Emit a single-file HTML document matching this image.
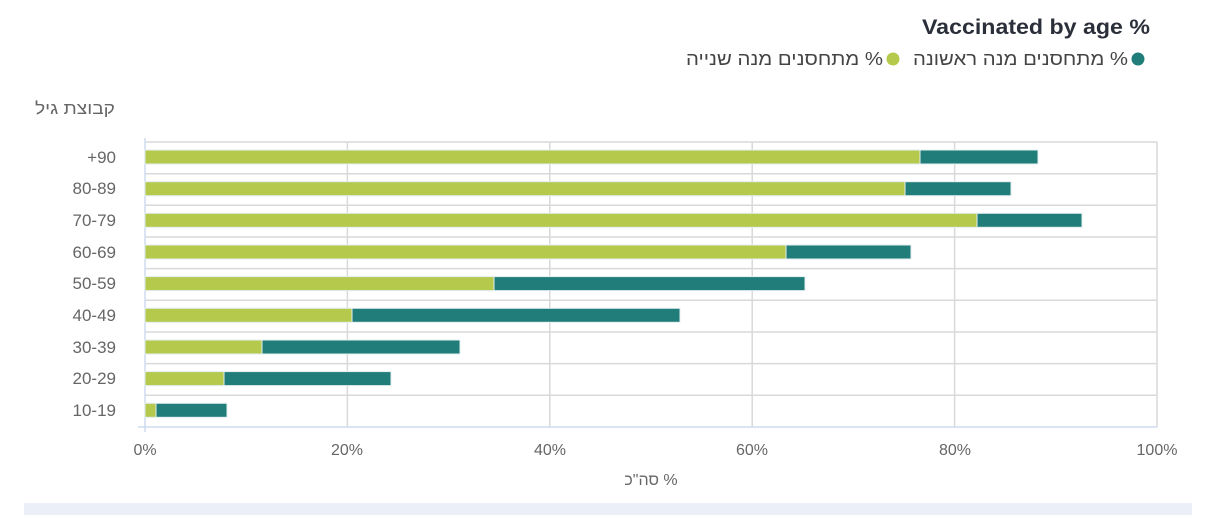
<!DOCTYPE html>
<html><head><meta charset="utf-8"><style>
html,body{margin:0;padding:0;background:#fff;width:1208px;height:521px;overflow:hidden}
svg{display:block}
text{font-family:"Liberation Sans","Noto Sans CJK JP",sans-serif}
</style></head><body>
<svg width="1208" height="521" viewBox="0 0 1208 521" xmlns="http://www.w3.org/2000/svg">
<text x="922" y="34" font-size="21" font-weight="bold" fill="#2b2f3a" textLength="228" lengthAdjust="spacingAndGlyphs">Vaccinated by age %</text>
<circle cx="1138" cy="59" r="6.5" fill="#217d79"/>
<text x="913" y="65" font-size="18" fill="#444" textLength="215" lengthAdjust="spacingAndGlyphs">מתחסנים מנה ראשונה %</text>
<circle cx="893" cy="59" r="6.5" fill="#b5c94c"/>
<text x="686" y="65" font-size="18" fill="#444" textLength="197" lengthAdjust="spacingAndGlyphs">מתחסנים מנה שנייה %</text>
<text x="35" y="114" font-size="17" fill="#666" textLength="80" lengthAdjust="spacingAndGlyphs">קבוצת גיל</text>
<g stroke="#d9d9d9" stroke-width="1.5" fill="none">
<line x1="145" y1="142" x2="1157" y2="142"/>
<line x1="145" y1="173.7" x2="1157" y2="173.7"/>
<line x1="145" y1="205.3" x2="1157" y2="205.3"/>
<line x1="145" y1="237" x2="1157" y2="237"/>
<line x1="145" y1="268.6" x2="1157" y2="268.6"/>
<line x1="145" y1="300.3" x2="1157" y2="300.3"/>
<line x1="145" y1="332" x2="1157" y2="332"/>
<line x1="145" y1="363.6" x2="1157" y2="363.6"/>
<line x1="145" y1="395.3" x2="1157" y2="395.3"/>
<line x1="347.4" y1="142" x2="347.4" y2="427"/>
<line x1="549.8" y1="142" x2="549.8" y2="427"/>
<line x1="752.2" y1="142" x2="752.2" y2="427"/>
<line x1="954.6" y1="142" x2="954.6" y2="427"/>
<line x1="1157" y1="142" x2="1157" y2="427"/>
</g>
<g stroke="#cfdcef" stroke-width="1.5">
<line x1="145" y1="138" x2="145" y2="432"/>
<line x1="138" y1="427" x2="1157" y2="427"/>
</g>
<g stroke="#e4eef0" stroke-width="1">
<rect x="145" y="150" width="893" height="14" fill="#217d79"/><rect x="145" y="150" width="775" height="14" fill="#b5c94c"/>
<rect x="145" y="181.7" width="866" height="14" fill="#217d79"/><rect x="145" y="181.7" width="760" height="14" fill="#b5c94c"/>
<rect x="145" y="213.3" width="937" height="14" fill="#217d79"/><rect x="145" y="213.3" width="832" height="14" fill="#b5c94c"/>
<rect x="145" y="245" width="766" height="14" fill="#217d79"/><rect x="145" y="245" width="641" height="14" fill="#b5c94c"/>
<rect x="145" y="276.6" width="660" height="14" fill="#217d79"/><rect x="145" y="276.6" width="349" height="14" fill="#b5c94c"/>
<rect x="145" y="308.3" width="535" height="14" fill="#217d79"/><rect x="145" y="308.3" width="207" height="14" fill="#b5c94c"/>
<rect x="145" y="340" width="315" height="14" fill="#217d79"/><rect x="145" y="340" width="117" height="14" fill="#b5c94c"/>
<rect x="145" y="371.6" width="246" height="14" fill="#217d79"/><rect x="145" y="371.6" width="79" height="14" fill="#b5c94c"/>
<rect x="145" y="403.3" width="82" height="14" fill="#217d79"/><rect x="145" y="403.3" width="11" height="14" fill="#b5c94c"/>
</g>
<g font-size="17" fill="#666" text-anchor="end">
<text x="116" y="163">+90</text>
<text x="116" y="194">80-89</text>
<text x="116" y="226">70-79</text>
<text x="116" y="258">60-69</text>
<text x="116" y="289">50-59</text>
<text x="116" y="321">40-49</text>
<text x="116" y="353">30-39</text>
<text x="116" y="384">20-29</text>
<text x="116" y="416">10-19</text>
</g>
<g font-size="16" fill="#666" text-anchor="middle">
<text x="145" y="455">0%</text>
<text x="347" y="455">20%</text>
<text x="550" y="455">40%</text>
<text x="752" y="455">60%</text>
<text x="955" y="455">80%</text>
<text x="1157" y="455">100%</text>
</g>
<text x="651" y="485" text-anchor="middle" font-size="16" fill="#666">סה"כ %</text>
<rect x="24" y="503" width="1168" height="12" fill="#ebeff7"/>
</svg>
</body></html>
